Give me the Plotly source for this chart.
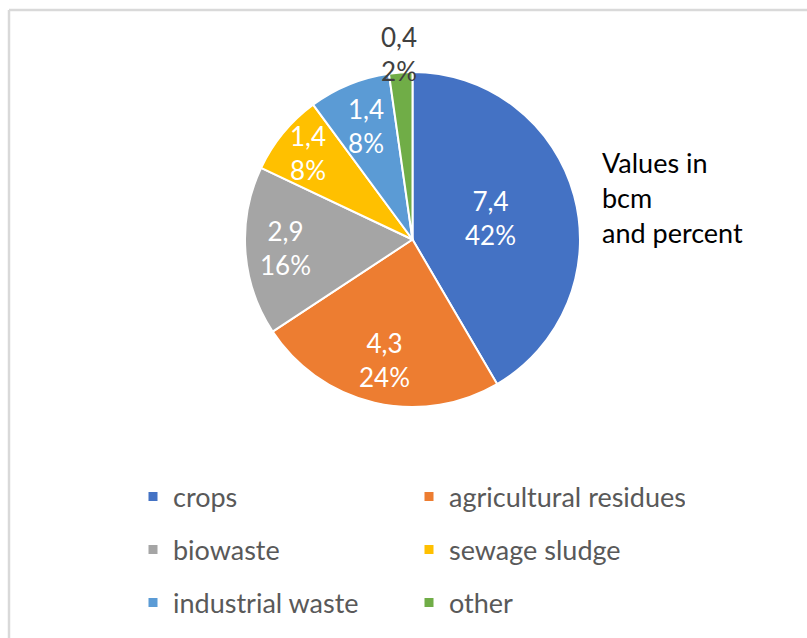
import math
import plotly.graph_objects as go

# Biogas potential by feedstock (bcm)
categories = ["crops", "agricultural residues", "biowaste",
              "sewage sludge", "industrial waste", "other"]
values_bcm = [7.4, 4.3, 2.9, 1.4, 1.4, 0.4]
colors = ["#4472C4", "#ED7D31", "#A5A5A5", "#FFC000", "#5B9BD5", "#70AD47"]

# radial placement of each data label, as a fraction of the pie radius
label_radius = [0.48, 0.74, 0.76, 0.81, 0.73, 1.11]
label_colors = ["white", "white", "white", "white", "white", "#404040"]

# legend rows: two entries per row
legend_rows = [["crops", "agricultural residues"],
               ["biowaste", "sewage sludge"],
               ["industrial waste", "other"]]

W, H = 807, 638
FONT = "Lato"

# pie frame in pixels (left, right, top, bottom)
PIE_L, PIE_R, PIE_T, PIE_B = 245, 580, 72, 407
CX, CY = (PIE_L + PIE_R) / 2, (PIE_T + PIE_B) / 2
RADIUS = (PIE_R - PIE_L) / 2


def px_x(x):
    return x / W


def px_y(y):
    return 1 - y / H


fig = go.Figure()

fig.add_trace(go.Pie(
    labels=categories,
    values=values_bcm,
    sort=False,
    direction="clockwise",
    rotation=0,
    marker=dict(colors=colors, line=dict(color="white", width=2)),
    textinfo="none",
    domain=dict(x=[px_x(PIE_L), px_x(PIE_R)], y=[px_y(PIE_B), px_y(PIE_T)]),
    showlegend=False,
    hoverinfo="label+value+percent",
))

# data labels: value and share, placed on each slice's bisector
total = sum(values_bcm)
annotations = []
cum = 0.0
for val, frac, col in zip(values_bcm, label_radius, label_colors):
    mid = (cum + val / 2) / total * 2 * math.pi
    cum += val
    lx = CX + frac * RADIUS * math.sin(mid)
    ly = CY - frac * RADIUS * math.cos(mid)
    pct = round(100 * val / total)
    annotations.append(dict(
        text=f"{val:.1f}".replace(".", ",") + f"<br>{pct}%",
        x=px_x(lx), y=px_y(ly), xref="paper", yref="paper",
        xanchor="center", yanchor="middle", align="center", showarrow=False,
        font=dict(family=FONT, size=26, color=col),
    ))

annotations.append(dict(
    text="Values in<br>bcm<br>and percent",
    x=px_x(600), y=px_y(197), xref="paper", yref="paper",
    xanchor="left", yanchor="middle", align="left", showarrow=False,
    font=dict(family=FONT, size=27, color="#000000"),
))

# legend entries, one legend per row
color_of = dict(zip(categories, colors))
row_y = [497, 550, 603]
legend_names = ["legend", "legend2", "legend3"]
for row, name in zip(legend_rows, legend_names):
    for cat in row:
        fig.add_trace(go.Scatter(
            x=[None], y=[None], mode="markers", name=cat,
            marker=dict(symbol="square", size=9, color=color_of[cat]),
            legend=name, hoverinfo="skip",
        ))

legend_common = dict(
    orientation="h", xanchor="left", yanchor="middle",
    x=px_x(133), entrywidth=231, bgcolor="rgba(0,0,0,0)",
    font=dict(family=FONT, size=27, color="#595959"),
    itemclick=False, itemdoubleclick=False,
)

fig.update_layout(
    width=W, height=H,
    margin=dict(l=0, r=0, t=0, b=0),
    paper_bgcolor="white", plot_bgcolor="white",
    xaxis=dict(visible=False, range=[0, 1]),
    yaxis=dict(visible=False, range=[0, 1]),
    legend=dict(legend_common, y=px_y(row_y[0])),
    legend2=dict(legend_common, y=px_y(row_y[1])),
    legend3=dict(legend_common, y=px_y(row_y[2])),
    annotations=annotations,
    shapes=[
        dict(type="line", xref="paper", yref="paper",
             x0=px_x(9), x1=px_x(9), y0=0, y1=px_y(10),
             line=dict(color="#D9D9D9", width=2.5)),
        dict(type="line", xref="paper", yref="paper",
             x0=px_x(9), x1=1, y0=px_y(10), y1=px_y(10),
             line=dict(color="#D9D9D9", width=2.5)),
    ],
)

fig.write_html("out.html")
